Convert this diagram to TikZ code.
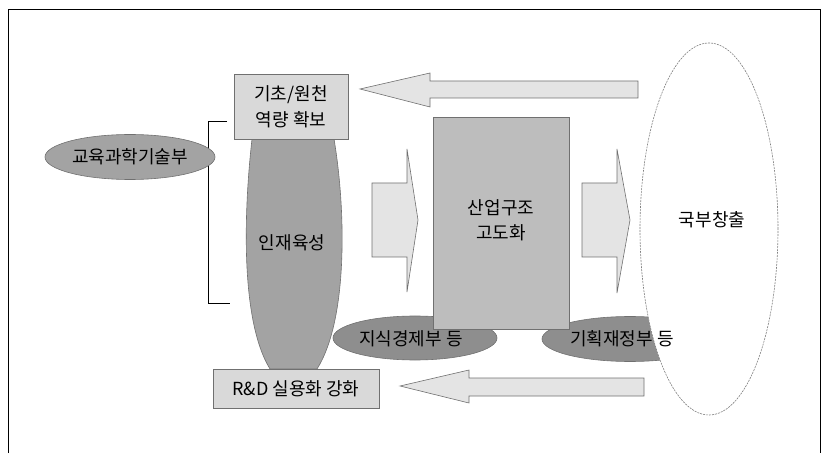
\documentclass[tikz,border=0pt]{standalone}
\usepackage{fontspec}
\setmainfont{Noto Sans CJK KR}
\usetikzlibrary{shapes.geometric}
\definecolor{boxlight}{HTML}{D9D9D9}
\definecolor{colgray}{HTML}{A3A3A3}
\definecolor{midgray}{HTML}{BDBDBD}
\definecolor{darkell}{HTML}{8E8E8E}
\definecolor{arrowfill}{HTML}{E4E4E4}
\definecolor{edgegray}{HTML}{707070}
\begin{document}
\begin{tikzpicture}[x=1pt,y=-1pt,
  txt/.style={font=\fontsize{18}{26}\selectfont, align=center, inner sep=0pt, text=black},
  lightbox/.style={draw=edgegray, line width=0.6pt, fill=boxlight, inner sep=0pt},
  darkoval/.style={ellipse, draw=edgegray, line width=0.6pt, fill=darkell, inner sep=0pt},
  blockarrow/.style={draw=edgegray, line width=0.6pt, fill=arrowfill},
  framel/.style={draw=black, line width=1pt}]
\useasboundingbox (0,0) rectangle (822,454);
% frame
\draw[framel] (8,453) -- (8,10) -- (820,10) -- (820,453);
% bracket
\coordinate (b1) at (227,121);
\coordinate (b2) at (208,121);
\coordinate (b3) at (208,303);
\coordinate (b4) at (230,303);
\draw[line width=0.9pt] (b1) -- (b2) -- (b3) -- (b4);
% ministry oval (left)
\node[darkoval, fill=colgray, minimum width=170, minimum height=45] (edu) at (130,157) {};
% arrows
\draw[blockarrow] (360,89) -- (430,73) -- (430,81) -- (638,81) -- (638,98) -- (430,98) -- (430,107) -- cycle;
\draw[blockarrow] (400,386) -- (469,370) -- (469,378) -- (644,378) -- (644,396) -- (469,396) -- (469,403) -- cycle;
\draw[blockarrow] (372,183) -- (407,183) -- (407,149) -- (418,220) -- (407,292) -- (407,257) -- (372,257) -- cycle;
\draw[blockarrow] (582,183) -- (617,183) -- (617,149) -- (630,220) -- (617,293) -- (617,257) -- (582,257) -- cycle;
% dark ovals
\node[darkoval, minimum width=164, minimum height=44] (jisik) at (415,338) {};
\node[darkoval, minimum width=176, minimum height=45] (gihoek) at (630,339) {};
% big ellipse
\node[ellipse, draw=gray, dashed, dash pattern=on 2pt off 1pt, line width=0.6pt, fill=white, minimum width=138, minimum height=372, inner sep=0pt] (gukbu) at (709,229) {};
% central box
\node[lightbox, fill=midgray, minimum width=136, minimum height=212] (sanup) at (501,223) {};
% talent column
\path[draw=edgegray, line width=0.6pt, fill=colgray] (252,139) .. controls (244,210) and (240,320) .. (270,369) -- (317,369) .. controls (348,320) and (346,210) .. (334,139) -- cycle;
% boxes
\node[lightbox, minimum width=114, minimum height=65] (gicho) at (291,106.5) {};
\node[lightbox, minimum width=166, minimum height=39] (rnd) at (296,388.5) {};
% texts
\node[txt] at (gicho) {기초/원천\\역량 확보};
\node[txt] at (rnd) {R\&D 실용화 강화};
\node[txt] at (edu) {교육과학기술부};
\node[txt] (injae) at (292,243) {인재육성};
\node[txt, font=\fontsize{18}{25}\selectfont] at (501,220) {산업구조\\고도화};
\node[txt] at (712,220) {국부창출};
\node[txt] at (411,339) {지식경제부 등};
\node[txt] at (622,339) {기획재정부 등};
\end{tikzpicture}
\end{document}
